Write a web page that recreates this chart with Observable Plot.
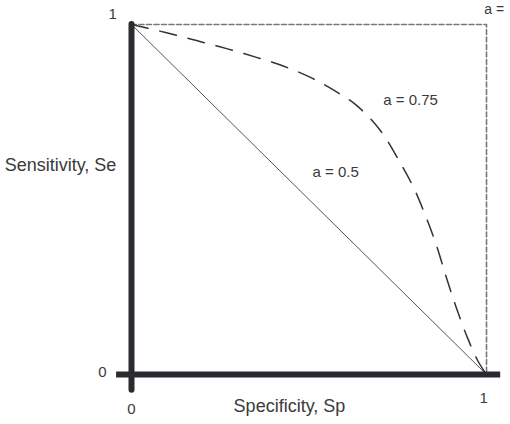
<!DOCTYPE html>
<html>
<head>
<meta charset="utf-8">
<script src="https://cdn.jsdelivr.net/npm/d3@7"></script>
<script src="https://cdn.jsdelivr.net/npm/@observablehq/plot@0.6"></script>
<style>
  html, body { margin: 0; padding: 0; background: #fff; }
</style>
</head>
<body>
<div id="chart"></div>
<script>
// Curve a = 0.75 (specificity, sensitivity)
const curveSp = [0, 0.096, 0.183, 0.268, 0.352, 0.431, 0.51, 0.572, 0.634, 0.701, 0.758, 0.797, 0.828, 0.859, 0.887, 0.915, 0.946, 0.975, 1];
const curveSe = [1, 0.977, 0.954, 0.931, 0.906, 0.88, 0.846, 0.811, 0.769, 0.697, 0.603, 0.529, 0.454, 0.369, 0.277, 0.191, 0.106, 0.04, 0];
// Chance line a = 0.5
const diagSp = [0, 1];
const diagSe = [1, 0];
// Perfect test a = 1 (dashed box)
const perfSp = [0, 1, 1];
const perfSe = [1, 1, 0];

// Text annotations (data units)
const tickLabels = ["1", "0", "0", "1"];
const tickX = [-0.053, -0.082, 0.0, 0.992];
const tickY = [1.03, 0.006, -0.1, -0.069];

const titleLabels = ["Sensitivity, Se", "Specificity, Sp"];
const titleX = [-0.2, 0.445];
const titleY = [0.597, -0.092];

const curveLabels = ["a = 0.75", "a = 0.5", "a ="];
const curveLabelX = [0.786, 0.575, 0.994];
const curveLabelY = [0.783, 0.577, 1.042];
const curveLabelAnchor = ["middle", "middle", "start"];

const curve = curveSp.map((x, i) => ({x, y: curveSe[i]}));
const diag = diagSp.map((x, i) => ({x, y: diagSe[i]}));
const perf = perfSp.map((x, i) => ({x, y: perfSe[i]}));
const ticks = tickLabels.map((t, i) => ({t, x: tickX[i], y: tickY[i]}));
const titles = titleLabels.map((t, i) => ({t, x: titleX[i], y: titleY[i]}));
const clabels = curveLabels.map((t, i) => ({t, x: curveLabelX[i], y: curveLabelY[i], a: curveLabelAnchor[i]}));

const chart = Plot.plot({
  width: 510,
  height: 424,
  marginLeft: 131,
  marginRight: 24,
  marginTop: 24,
  marginBottom: 50,
  x: {domain: [0, 1], axis: null},
  y: {domain: [0, 1], axis: null},
  style: {fontFamily: "'Liberation Sans', Arial, sans-serif", background: "#fff", overflow: "visible"},
  marks: [
    Plot.line(perf, {x: "x", y: "y", stroke: "#777", strokeWidth: 1.6, strokeDasharray: "5,2.5", clip: false}),
    Plot.line(diag, {x: "x", y: "y", stroke: "#555", strokeWidth: 1}),
    Plot.line(curve, {x: "x", y: "y", stroke: "#333", strokeWidth: 1.5, strokeDasharray: "17,12", curve: "catmull-rom"}),
    Plot.ruleX([0], {y1: -0.045, y2: 1, stroke: "#2b2b2f", strokeWidth: 6, strokeLinecap: "round"}),
    Plot.ruleY([0], {x1: -0.042, x2: 1.04, stroke: "#2b2b2f", strokeWidth: 6}),
    Plot.text(ticks, {x: "x", y: "y", text: "t", fontSize: 15, fill: "#3a3a3a", textAnchor: "middle"}),
    Plot.text(titles, {x: "x", y: "y", text: "t", fontSize: 18, fill: "#3a3a3a", textAnchor: "middle"}),
    Plot.text(clabels.filter(d => d.a === "middle"), {x: "x", y: "y", text: "t", fontSize: 15, fill: "#3a3a3a", textAnchor: "middle"}),
    Plot.text(clabels.filter(d => d.a === "start"), {x: "x", y: "y", text: "t", fontSize: 14, fill: "#3a3a3a", textAnchor: "start"})
  ]
});
document.getElementById("chart").appendChild(chart);
</script>
</body>
</html>
